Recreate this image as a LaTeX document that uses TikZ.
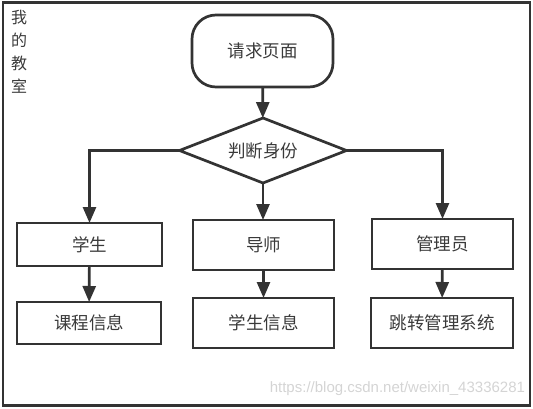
\documentclass[tikz,border=0pt]{standalone}
\usepackage{fontspec}
\setmainfont{Liberation Sans}
\newfontfamily\cjk{Noto Sans CJK SC}
\usetikzlibrary{arrows.meta,shapes.geometric}
\definecolor{ln}{HTML}{333333}
\definecolor{tx}{HTML}{3A3A3A}
\definecolor{wm}{HTML}{D4D4D4}
\tikzset{
  every node/.style={inner sep=0pt, outer sep=0pt},
  boxnode/.style={draw=ln, line width=2.7pt, minimum width=141pt, minimum height=50pt, font=\cjk\fontsize{17.5}{17.5}\selectfont, text=tx},
  conn/.style={draw=ln, line width=2.7pt, -{Triangle[length=16pt,width=13pt]}},
}
\begin{document}
\begin{tikzpicture}[x=1pt,y=-1pt]
\useasboundingbox (0,0) rectangle (533,409);
\draw[ln, line width=2.6pt] (3,2.5) rectangle (530,405.5);
\node[anchor=north west, align=left, text=tx, font=\cjk\fontsize{16}{23}\selectfont] (title) at (11,10) {我\\的\\教\\室};
\node[boxnode, rounded corners=24pt, minimum width=141pt, minimum height=72pt] (start) at (262.5,51) {请求页面};
\node[draw=ln, line width=2.7pt, diamond, aspect=2.55, minimum width=167pt, minimum height=65pt, font=\cjk\fontsize{17.5}{17.5}\selectfont, text=tx] (judge) at (263,150.5) {判断身份};
\node[boxnode, minimum width=145pt, minimum height=43pt] (stu) at (89.5,244.5) {学生};
\node[boxnode] (tea) at (263.5,245) {导师};
\node[boxnode] (adm) at (442.5,244) {管理员};
\node[boxnode, minimum width=144pt, minimum height=42pt] (course) at (89,323) {课程信息};
\node[boxnode] (info) at (263.5,323) {学生信息};
\node[boxnode, minimum width=142pt] (sys) at (442,323) {跳转管理系统};
\draw[conn] (start) -- (judge);
\draw[conn] (judge.west) -| (stu.north);
\draw[conn] (judge.south) -- (judge.south |- tea.north);
\draw[conn] (judge.east) -| (adm.north);
\draw[conn] (stu) -- (course);
\draw[conn] (tea) -- (info);
\draw[conn] (adm) -- (sys);
\node[anchor=east, text=wm, font=\fontsize{15}{15}\selectfont] (wmark) at (525,389) {https://blog.csdn.net/weixin\_43336281};
\end{tikzpicture}
\end{document}
